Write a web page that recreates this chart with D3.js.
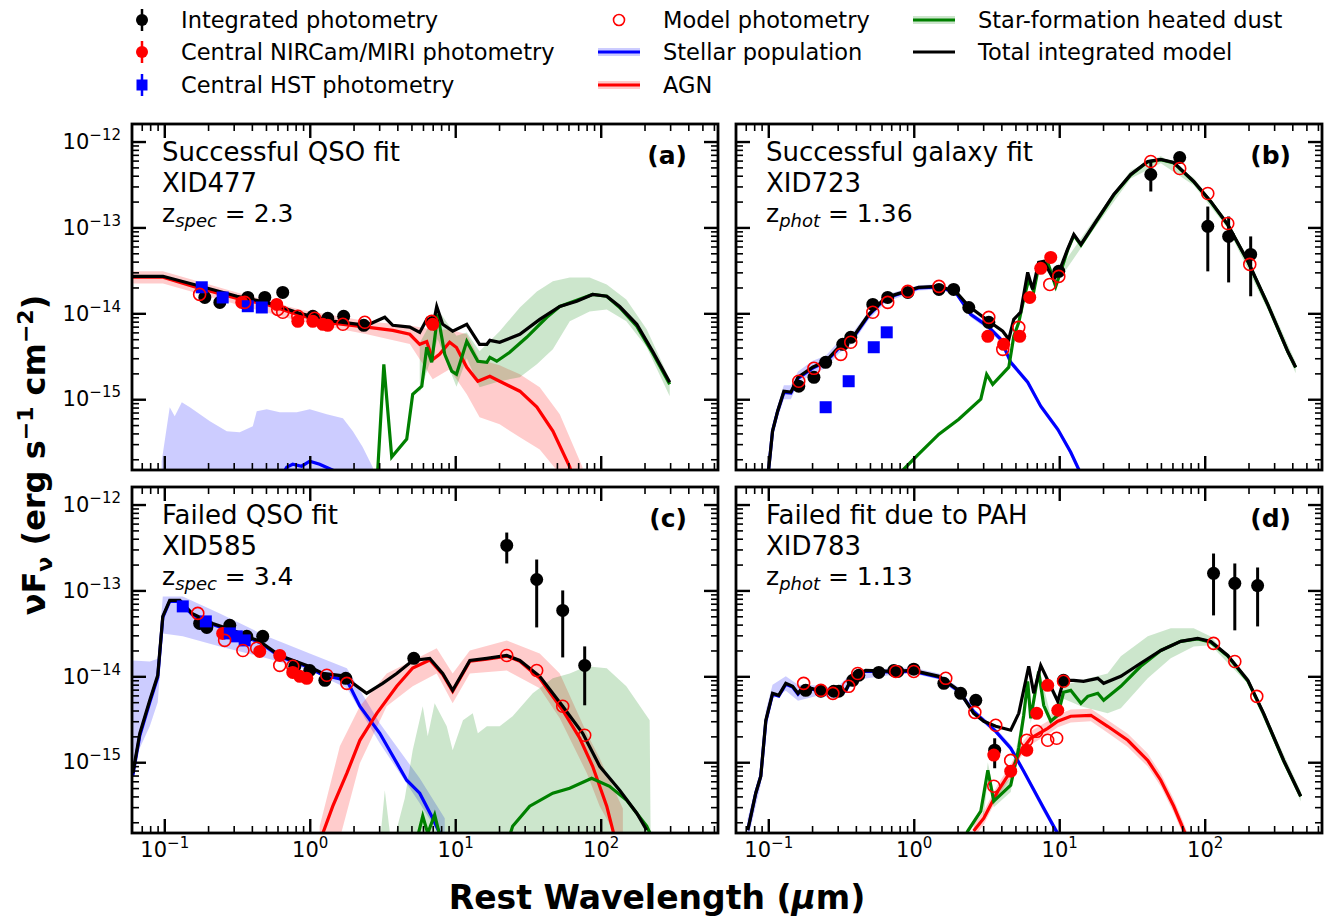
<!DOCTYPE html>
<html>
<head>
<meta charset="utf-8">
<script src="https://cdn.jsdelivr.net/npm/d3@7"></script>
<style>
  body { margin: 0; background: #fff; }
  text { font-family: "DejaVu Sans", sans-serif; }
</style>
</head>
<body>
<div id="chart"></div>
<script>
// Global set up
const W = 1331, H = 917;
const pw = 586, ph = 346;
const xDomain = [0.06, 640];   // rest wavelength (micron)
const yDomain = [0.015, 160];  // nuFnu in units of 1e-14 erg s^-1 cm^-2
const xMajor = [0.1, 1, 10, 100];
const yMajor = [0.1, 1, 10, 100];

// ---- Panel (a) XID477 ----  [wavelength, flux] ; bands [wavelength, lo, hi]
const aTotal = [[0.06,2.7],[0.098,2.7],[0.167,2.12],[0.316,1.58],[0.506,1.34],[0.85,1.0],[1.44,0.81],[2.47,0.725],[3.28,0.9],[3.72,0.725],[4.87,0.69],[5.7,0.6],[6.37,0.85],[7.0,0.69],[7.46,1.2],[8.2,0.745],[9.6,0.62],[12.0,0.745],[14.7,0.436],[16.5,0.436],[17.3,0.485],[20.2,0.46],[27.8,0.57],[38.1,0.85],[52.3,1.2],[68.4,1.38],[88,1.66],[110,1.58],[135,1.2],[177,0.745],[228,0.36],[298,0.158]];
const aStellar = [[0.622,0.0117],[0.695,0.0162],[0.764,0.0175],[0.88,0.0166],[1.0,0.019],[1.17,0.0175],[1.44,0.0149],[1.74,0.0117]];
const aStellarBand = [[0.096,0.005,0.019],[0.109,0.005,0.0807],[0.118,0.005,0.0634],[0.132,0.005,0.0923],[0.150,0.005,0.0807],[0.206,0.005,0.0555],[0.269,0.005,0.0425],[0.330,0.005,0.0413],[0.406,0.005,0.0485],[0.432,0.005,0.0725],[0.506,0.005,0.0765],[0.622,0.005,0.0706],[0.814,0.005,0.0706],[1.0,0.005,0.0765],[1.31,0.005,0.067],[1.69,0.005,0.0601],[1.98,0.005,0.0425],[2.31,0.005,0.0277],[2.71,0.005,0.0162],[2.85,0.005,0.01]];
const aAGN = [[0.06,2.63],[0.098,2.63],[0.167,2.0],[0.316,1.49],[0.506,1.27],[0.85,0.95],[1.44,0.77],[2.47,0.69],[3.72,0.634],[4.87,0.57],[5.7,0.436],[6.37,0.47],[7.0,0.29],[7.8,0.333],[9.15,0.46],[10.2,0.40],[12.0,0.235],[14.3,0.162],[17.3,0.185],[20.2,0.162],[27.8,0.124],[36.4,0.081],[46.9,0.0425],[61.3,0.0162],[66,0.0102]];
const aAGNBand = [[0.06,2.23,3.08],[0.098,2.23,3.08],[0.316,1.27,1.75],[0.85,0.81,1.11],[2.47,0.57,0.81],[4.87,0.44,0.72],[7.0,0.171,0.65],[9.15,0.223,0.65],[12.0,0.114,0.57],[14.7,0.0617,0.29],[20.2,0.051,0.248],[27.8,0.036,0.195],[38.1,0.026,0.138],[52.3,0.0135,0.067],[75,0.0069,0.0162]];
const aDust = [[2.93,0.0145],[3.23,0.255],[3.66,0.0212],[4.64,0.0343],[5.1,0.114],[5.89,0.142],[6.37,0.403],[6.89,0.269],[7.58,0.97],[8.47,0.333],[9.46,0.212],[10.2,0.195],[12.0,0.472],[14.3,0.277],[16.5,0.269],[17.3,0.307],[19.3,0.277],[23.7,0.352],[31,0.526],[42.6,0.90],[52.3,1.2],[68.4,1.42],[88,1.66],[110,1.58],[135,1.17],[177,0.71],[228,0.343],[298,0.149]];
const aDustBand = [[5.7,0.12,0.45],[7.58,0.5,1.11],[10.2,0.14,0.55],[12.0,0.3,0.6],[14.7,0.138,0.361],[20.2,0.162,0.618],[27.8,0.180,1.17],[36.4,0.255,1.80],[46.9,0.381,2.36],[61.3,0.807,2.62],[83.9,1.05,2.62],[110,1.11,2.17],[150,0.807,1.45],[207,0.403,0.652],[298,0.108,0.171]];
const aIntegrated = [[0.190,1.53],[0.241,1.34],[0.375,1.53],[0.491,1.53],[0.652,1.75],[1.05,0.923],[1.33,0.875],[1.71,0.923],[2.35,0.725],[7.0,0.786]];
const aCentral = [[0.341,1.34],[0.593,1.27],[0.828,0.807],[1.05,0.807],[1.23,0.745],[1.33,0.725],[7.0,0.745]];
const aHST = [[0.181,2.01],[0.252,1.53],[0.375,1.21],[0.468,1.17]];
const aModel = [[0.175,1.66],[0.357,1.34],[0.603,1.11],[0.652,1.03],[0.828,0.923],[1.08,0.875],[1.69,0.745],[2.39,0.786],[6.89,0.807]];

// ---- Panel (b) XID723 ----
const bTotal = [[0.099,0.0117],[0.107,0.0425],[0.116,0.0725],[0.128,0.124],[0.143,0.121],[0.160,0.180],[0.202,0.236],[0.248,0.277],[0.305,0.403],[0.381,0.526],[0.491,0.973],[0.642,1.53],[0.881,1.80],[1.08,2.01],[1.49,2.06],[1.94,1.80],[2.39,1.21],[3.28,0.807],[4.09,0.618],[4.5,0.499],[4.87,0.851],[5.43,1.03],[6.07,3.0],[6.57,1.90],[7.22,3.92],[7.82,4.03],[9.16,2.48],[9.93,3.0],[11.4,5.55],[12.6,8.29],[14.1,6.34],[17.3,10.8],[23.7,24.2],[31.0,41.3],[40.6,58.5],[49.9,61.8],[61.2,57.0],[84,34.3],[110,20.1],[144,10.8],[198,4.03],[271,1.27],[372,0.361],[422,0.236]];
const bStellar = [[0.099,0.0117],[0.107,0.0425],[0.116,0.0725],[0.128,0.12],[0.143,0.118],[0.160,0.175],[0.202,0.23],[0.248,0.27],[0.305,0.39],[0.381,0.51],[0.491,0.95],[0.642,1.5],[0.881,1.78],[1.08,1.98],[1.49,2.03],[1.94,1.75],[2.46,0.973],[3.23,0.706],[3.96,0.499],[4.64,0.269],[6.07,0.158],[7.46,0.083],[9.77,0.0447],[12.0,0.0241],[13.6,0.0153],[15.2,0.0103]];
const bStellarBand = [[0.099,0.01,0.014],[0.107,0.035,0.05],[0.116,0.06,0.085],[0.128,0.1,0.145],[0.143,0.1,0.145],[0.160,0.15,0.21],[0.202,0.2,0.28],[0.248,0.23,0.32],[0.305,0.34,0.47],[0.381,0.45,0.6],[0.491,0.85,1.05],[0.642,1.35,1.65],[0.881,1.65,1.92],[1.08,1.85,2.12],[1.49,1.9,2.18],[1.94,1.65,1.9],[2.46,0.9,1.05],[3.23,0.65,0.76],[3.96,0.46,0.54],[4.64,0.25,0.29],[6.07,0.147,0.17],[7.46,0.077,0.09],[9.77,0.041,0.048],[12.0,0.022,0.026],[15.2,0.0095,0.011]];
const bAGN = [];
const bAGNBand = [];
const bDust = [[0.80,0.012],[0.853,0.0153],[1.08,0.0229],[1.49,0.0392],[2.04,0.0585],[2.89,0.1],[3.17,0.195],[3.49,0.149],[4.5,0.236],[4.87,0.54],[5.27,0.786],[5.7,1.45],[6.17,2.48],[6.68,1.80],[7.22,3.52],[8.33,3.92],[9.46,2.06],[10.2,3.0],[11.4,5.4],[12.6,8.1],[14.1,6.2],[17.3,10.6],[23.7,23.8],[31.0,40.8],[40.6,58],[49.9,61.3],[61.2,56.5],[84,34],[110,19.9],[144,10.7],[198,4.0],[271,1.26],[372,0.358],[422,0.234]];
const bDustBand = [[10.2,2.6,3.4],[17.3,9.5,12.2],[31,37,46],[49.9,56,68],[84,31,38],[144,9.8,11.9],[271,1.1,1.45],[422,0.2,0.27]];
const bIntegrated = [[0.162,0.142],[0.206,0.180],[0.248,0.269],[0.325,0.436],[0.369,0.526],[0.523,1.27],[0.662,1.53],[0.91,1.75],[1.49,1.90],[1.88,1.90],[2.39,1.17],[3.28,0.786],[9.93,3.08],[42.6,41.3,26.2,58.5],[67.3,65.2,58.5,70],[105,10.3,3.08,17.5],[146,7.86,2.29,13.4],[207,4.85,1.58,7.86]];
const bCentral = [[3.23,0.54],[4.15,0.436],[5.35,0.54],[6.27,1.53],[7.46,3.34],[8.74,4.48]];
const bHST = [[0.248,0.0807],[0.357,0.162],[0.531,0.403],[0.652,0.601]];
const bModel = [[0.162,0.162],[0.206,0.229],[0.315,0.333],[0.369,0.46],[0.523,1.03],[0.662,1.34],[0.91,1.80],[1.49,2.06],[3.28,0.898],[4.09,0.381],[5.27,0.687],[8.61,2.17],[9.93,2.69],[42.6,58.5],[67.3,48.5],[105,24.8],[144,11.1],[204,3.71]];

// ---- Panel (c) XID585 ----
const cTotal = [[0.0608,0.0745],[0.0679,0.217],[0.0795,0.526],[0.0902,1.03],[0.0977,4.99],[0.109,7.65],[0.128,7.65],[0.155,5.4],[0.215,4.13],[0.296,3.43],[0.453,2.55],[0.622,1.75],[0.954,1.34],[1.23,1.08],[1.80,1.0],[1.98,0.829],[2.46,0.634],[3.17,0.829],[3.96,1.08],[5.1,1.53],[6.68,1.62],[8.2,1.08],[9.6,0.687],[12.6,1.53],[16.5,1.62],[22.6,1.75],[27.8,1.53],[38.1,1.0],[54.8,0.448],[75.2,0.217],[98.4,0.0898],[135,0.0472],[177,0.0255],[207,0.0162]];
const cStellar = [[0.0608,0.07],[0.0679,0.205],[0.0795,0.5],[0.0902,0.98],[0.0977,4.85],[0.109,7.45],[0.128,7.45],[0.155,5.25],[0.215,4.0],[0.296,3.33],[0.453,2.48],[0.622,1.7],[0.954,1.3],[1.23,1.04],[1.80,0.898],[2.21,0.448],[3.03,0.217],[4.64,0.0618],[5.7,0.0436],[7.0,0.0223],[7.82,0.0149]];
const cStellarBand = [[0.0608,0.0976,1.53],[0.0795,0.262,1.49],[0.0902,0.5,1.6],[0.0977,3.16,8.5],[0.134,2.92,8.5],[0.241,2.23,5.4],[0.506,1.62,2.92],[1.0,1.17,1.85],[1.80,0.725,1.24],[3.03,0.166,0.284],[5.7,0.0334,0.065],[8.47,0.0114,0.0223]];
const cAGN = [[1.23,0.0149],[1.44,0.0308],[1.80,0.0745],[2.21,0.180],[2.89,0.371],[3.96,0.765],[5.1,1.25],[6.68,1.55],[8.2,1.05],[9.6,0.67],[12.6,1.5],[16.5,1.58],[22.6,1.72],[27.8,1.5],[38.1,0.95],[54.8,0.403],[71.8,0.19],[88,0.0898],[110,0.0308],[125,0.0131]];
const cAGNBand = [[1.17,0.005,0.018],[1.61,0.013,0.153],[2.21,0.0973,0.448],[3.38,0.448,1.08],[5.1,0.765,1.53],[7.46,1.08,2.12],[9.6,0.486,1.08],[12.6,1.08,2.0],[22.6,1.17,2.62],[38.1,0.725,1.85],[52.3,0.325,1.08],[80.3,0.0745,0.217],[98.4,0.0308,0.111],[142,0.01,0.029]];
const cDust = [[5.27,0.01],[5.98,0.0236],[6.47,0.0149],[7.22,0.0244],[8.07,0.0114],[12.6,0.0026],[20.2,0.0058],[24.8,0.018],[32.5,0.0308],[46.8,0.0436],[61.2,0.0498],[86.7,0.0652],[115,0.0525],[151,0.036],[207,0.018],[235,0.0115]];
const cDustBand = [[2.9,0.003,0.005],[3.28,0.003,0.0472],[3.66,0.003,0.01],[4.5,0.003,0.0382],[5.1,0.003,0.138],[5.98,0.003,0.448],[6.47,0.003,0.2],[7.22,0.003,0.486],[8.74,0.003,0.262],[9.6,0.003,0.138],[11.3,0.003,0.308],[13.2,0.003,0.371],[14.3,0.003,0.217],[16.5,0.003,0.262],[20.2,0.003,0.262],[24.8,0.003,0.343],[34.1,0.003,0.634],[46.8,0.003,0.948],[61.2,0.003,1.08],[80.3,0.003,1.31],[110,0.003,1.24],[150,0.003,0.765],[217,0.003,0.308],[222,0.003,0.003]];
const cIntegrated = [[0.175,4.13],[0.196,3.71],[0.282,3.92],[0.369,2.92],[0.475,2.92],[0.789,1.31],[1.0,1.17],[1.27,0.898],[1.77,0.948],[5.19,1.62],[22.6,33.4,20.6,47.2],[36.3,13.4,3.71,22.9],[54.8,5.85,1.66,10],[77.6,1.34,0.46,2.23]];
const cCentral = [[0.252,3.16],[0.453,1.95],[0.622,1.75],[0.764,1.11],[0.854,1.0],[0.954,0.948]];
const cHST = [[0.134,6.52],[0.193,4.36],[0.282,3.16],[0.315,2.92],[0.357,2.62]];
const cModel = [[0.17,5.4],[0.26,2.62],[0.347,2.0],[0.432,2.12],[0.622,1.34],[0.764,1.31],[1.31,1.03],[1.80,0.829],[22.6,1.75],[36.3,1.17],[54.8,0.448],[77.6,0.206]];

// ---- Panel (d) XID783 ----
const dTotal = [[0.0723,0.0162],[0.082,0.0436],[0.0888,0.0687],[0.0962,0.308],[0.107,0.634],[0.118,0.601],[0.132,0.829],[0.147,0.765],[0.16,0.634],[0.175,0.765],[0.222,0.687],[0.291,0.634],[0.341,0.687],[0.381,1.0],[0.468,1.17],[0.717,1.14],[0.984,1.17],[1.49,1.0],[2.04,0.687],[2.58,0.371],[3.03,0.3],[3.66,0.262],[4.64,0.236],[5.27,0.371],[6.17,1.31],[6.68,0.634],[7.46,1.34],[9.77,0.512],[10.7,0.898],[12.6,0.898],[14.7,0.875],[18.4,0.948],[20.2,0.829],[26.5,1.0],[36.3,1.42],[49.9,2.0],[68.4,2.55],[89.5,2.77],[110,2.55],[144,1.75],[198,0.898],[254,0.371],[349,0.105],[457,0.0402]];
const dStellar = [[0.0723,0.0162],[0.082,0.0436],[0.0888,0.0687],[0.0962,0.3],[0.107,0.62],[0.118,0.59],[0.132,0.81],[0.147,0.75],[0.16,0.62],[0.175,0.75],[0.222,0.675],[0.291,0.62],[0.341,0.675],[0.381,0.98],[0.468,1.15],[0.717,1.12],[0.984,1.15],[1.49,0.98],[2.04,0.67],[2.58,0.39],[3.66,0.229],[4.64,0.146],[5.7,0.0786],[7.82,0.0292],[9.46,0.0162],[10.6,0.0115]];
const dStellarBand = [[0.072,0.012,0.022],[0.0888,0.055,0.085],[0.0962,0.25,0.4],[0.107,0.55,0.8],[0.132,0.68,1.0],[0.16,0.52,0.8],[0.222,0.6,0.78],[0.291,0.55,0.72],[0.381,0.9,1.12],[0.717,1.04,1.25],[0.984,1.08,1.27],[1.49,0.92,1.08],[2.04,0.62,0.74],[2.58,0.36,0.42],[3.66,0.215,0.25],[4.64,0.135,0.16],[5.7,0.072,0.085],[7.82,0.026,0.032],[10.6,0.0105,0.0127]];
const dAGN = [[2.58,0.0158],[3.03,0.0223],[3.78,0.046],[4.64,0.0786],[5.43,0.134],[6.37,0.19],[8.33,0.248],[9.77,0.3],[12.0,0.343],[16.5,0.352],[21.5,0.262],[29.6,0.18],[40.6,0.105],[49.9,0.0618],[61.2,0.0308],[71.8,0.0162],[80,0.01]];
const dAGNBand = [[2.58,0.013,0.019],[3.03,0.019,0.027],[3.78,0.039,0.055],[4.64,0.067,0.094],[5.43,0.114,0.16],[6.37,0.16,0.23],[8.33,0.21,0.3],[9.77,0.255,0.36],[12.0,0.29,0.41],[16.5,0.3,0.42],[21.5,0.22,0.31],[29.6,0.15,0.215],[40.6,0.089,0.126],[49.9,0.052,0.074],[61.2,0.026,0.037],[71.8,0.0137,0.0195],[80,0.0085,0.012]];
const dDust = [[2.1,0.01],[2.35,0.0158],[2.89,0.0269],[3.23,0.0807],[3.55,0.0352],[4.64,0.054],[5.27,0.146],[5.7,0.352],[6.07,0.875],[6.37,0.325],[7.22,1.14],[7.82,0.46],[8.74,0.3],[9.77,0.352],[10.7,0.652],[12.0,0.687],[14.1,0.486],[15.7,0.585],[18.4,0.634],[20.2,0.526],[26.5,0.765],[36.3,1.31],[49.9,2.0],[68.4,2.55],[89.5,2.72],[110,2.5],[144,1.72],[198,0.88],[254,0.365],[349,0.103],[457,0.04]];
const dDustBand = [[3.0,0.02,0.035],[3.23,0.065,0.1],[3.55,0.03,0.045],[4.64,0.045,0.066],[5.7,0.3,0.42],[6.07,0.75,1.0],[6.37,0.28,0.38],[7.22,1.0,1.3],[8.74,0.26,0.35],[10.7,0.55,0.78],[14.1,0.448,0.898],[21.5,0.371,1.08],[26.5,0.425,1.71],[40.6,0.948,2.92],[58.4,1.62,3.62],[84,2.23,3.62],[110,2.3,2.9],[198,0.82,0.98],[457,0.035,0.046]];
const dIntegrated = [[0.181,0.687],[0.23,0.67],[0.282,0.67],[0.305,0.67],[0.381,0.898],[0.419,1.03],[0.575,1.11],[0.729,1.17],[0.776,1.14],[1.0,1.21],[1.61,0.829],[2.1,0.634],[2.67,0.526],[3.6,0.138,0.0851,0.19],[10.7,0.898],[115,15.8,5.12,26.9],[161,12.1,3.43,20.6],[231,11.4,3.81,18.5]];
const dCentral = [[3.55,0.121],[4.64,0.0786],[5.98,0.138],[7.0,0.371],[8.33,0.786],[9.77,0.403]];
const dHST = [];
const dModel = [[0.175,0.829],[0.23,0.687],[0.278,0.634],[0.357,0.765],[0.412,1.08],[0.752,1.14],[1.0,1.14],[1.66,0.948],[2.63,0.381],[3.66,0.269],[3.55,0.0526],[4.64,0.105],[5.98,0.18],[7.0,0.229],[8.33,0.18],[9.6,0.19],[10.7,0.875],[115,2.42],[161,1.49],[228,0.585]];

const panels = [
  {tag: "a", title: "Successful QSO fit", xid: "XID477", zsub: "spec", z: "2.3", col: 0, row: 0,
   total: aTotal, stellar: aStellar, stellarBand: aStellarBand, agn: aAGN, agnBand: aAGNBand, dust: aDust, dustBand: aDustBand,
   integrated: aIntegrated, central: aCentral, hst: aHST, model: aModel},
  {tag: "b", title: "Successful galaxy fit", xid: "XID723", zsub: "phot", z: "1.36", col: 1, row: 0,
   total: bTotal, stellar: bStellar, stellarBand: bStellarBand, agn: bAGN, agnBand: bAGNBand, dust: bDust, dustBand: bDustBand,
   integrated: bIntegrated, central: bCentral, hst: bHST, model: bModel},
  {tag: "c", title: "Failed QSO fit", xid: "XID585", zsub: "spec", z: "3.4", col: 0, row: 1,
   total: cTotal, stellar: cStellar, stellarBand: cStellarBand, agn: cAGN, agnBand: cAGNBand, dust: cDust, dustBand: cDustBand,
   integrated: cIntegrated, central: cCentral, hst: cHST, model: cModel},
  {tag: "d", title: "Failed fit due to PAH", xid: "XID783", zsub: "phot", z: "1.13", col: 1, row: 1,
   total: dTotal, stellar: dStellar, stellarBand: dStellarBand, agn: dAGN, agnBand: dAGNBand, dust: dDust, dustBand: dDustBand,
   integrated: dIntegrated, central: dCentral, hst: dHST, model: dModel}
];

const colLeft = [132, 736];
const rowTop = [124, 487];

const svg = d3.select("#chart").append("svg")
  .attr("width", W).attr("height", H)
  .style("background", "#fff");

const colors = {
  blue: "#0000ff", red: "#ff0000", green: "#008000", black: "#000000",
  blueBand: "rgba(0,0,255,0.2)", redBand: "rgba(255,0,0,0.2)", greenBand: "rgba(0,128,0,0.2)"
};

function minorTicks(domain) {
  const out = [];
  for (let e = -3; e <= 3; e++) {
    for (let k = 2; k <= 9; k++) {
      const v = k * Math.pow(10, e);
      if (v > domain[0] && v < domain[1]) out.push(v);
    }
  }
  return out;
}

// "10^n" label with a raised exponent
function powLabel(textSel, d, offset) {
  const e = Math.round(Math.log10(d)) + offset;
  textSel.text(null);
  textSel.append("tspan").text("10");
  textSel.append("tspan").attr("dy", -9).attr("font-size", 15)
    .text((e < 0 ? "\u2212" : "") + Math.abs(e));
}

function styleAxis(sel, width) {
  sel.select(".domain").remove();
  sel.selectAll(".tick line").attr("stroke", "#000").attr("stroke-width", width);
}

function drawAxes(g, x, y, showX, showY) {
  const xMinor = minorTicks(xDomain);
  const yMinor = minorTicks(yDomain);
  const majorLen = -14, minorLen = -7;

  // bottom / top
  const bottom = g.append("g").attr("transform", `translate(0,${ph})`)
    .call(d3.axisBottom(x).tickValues(xMajor).tickSize(majorLen).tickSizeOuter(0).tickPadding(9).tickFormat(() => ""));
  styleAxis(bottom, 2.4);
  g.append("g").attr("transform", `translate(0,${ph})`)
    .call(d3.axisBottom(x).tickValues(xMinor).tickSize(minorLen).tickSizeOuter(0).tickFormat(() => ""))
    .call(s => styleAxis(s, 1.6));
  g.append("g")
    .call(d3.axisTop(x).tickValues(xMajor).tickSize(majorLen).tickSizeOuter(0).tickFormat(() => ""))
    .call(s => styleAxis(s, 2.4));
  g.append("g")
    .call(d3.axisTop(x).tickValues(xMinor).tickSize(minorLen).tickSizeOuter(0).tickFormat(() => ""))
    .call(s => styleAxis(s, 1.6));

  // left / right
  const left = g.append("g")
    .call(d3.axisLeft(y).tickValues(yMajor).tickSize(majorLen).tickSizeOuter(0).tickPadding(11).tickFormat(() => ""));
  styleAxis(left, 2.4);
  g.append("g")
    .call(d3.axisLeft(y).tickValues(yMinor).tickSize(minorLen).tickSizeOuter(0).tickFormat(() => ""))
    .call(s => styleAxis(s, 1.6));
  g.append("g").attr("transform", `translate(${pw},0)`)
    .call(d3.axisRight(y).tickValues(yMajor).tickSize(majorLen).tickSizeOuter(0).tickFormat(() => ""))
    .call(s => styleAxis(s, 2.4));
  g.append("g").attr("transform", `translate(${pw},0)`)
    .call(d3.axisRight(y).tickValues(yMinor).tickSize(minorLen).tickSizeOuter(0).tickFormat(() => ""))
    .call(s => styleAxis(s, 1.6));

  if (showX) {
    bottom.selectAll(".tick text")
      .attr("font-size", 21).attr("fill", "#000").attr("font-family", "DejaVu Sans")
      .each(function(d) { powLabel(d3.select(this), d, 0); });
  }
  if (showY) {
    left.selectAll(".tick text")
      .attr("font-size", 21).attr("fill", "#000").attr("font-family", "DejaVu Sans")
      .each(function(d) { powLabel(d3.select(this), d, -14); });
  }

  // frame
  g.append("rect").attr("width", pw).attr("height", ph)
    .attr("fill", "none").attr("stroke", "#000").attr("stroke-width", 2.8);
}

function drawPanel(p) {
  const g = svg.append("g").attr("transform", `translate(${colLeft[p.col]},${rowTop[p.row]})`);
  const x = d3.scaleLog().domain(xDomain).range([0, pw]);
  const y = d3.scaleLog().domain(yDomain).range([ph, 0]);

  const clipId = "clip-" + p.tag;
  g.append("clipPath").attr("id", clipId)
    .append("rect").attr("width", pw).attr("height", ph);
  const plot = g.append("g").attr("clip-path", `url(#${clipId})`);

  const area = d3.area().x(d => x(d[0])).y0(d => y(d[1])).y1(d => y(d[2]));
  const line = d3.line().x(d => x(d[0])).y(d => y(d[1]));

  //bands
  [[p.stellarBand, colors.blueBand], [p.agnBand, colors.redBand], [p.dustBand, colors.greenBand]]
    .forEach(([data, fill]) => {
      if (data.length) plot.append("path").datum(data).attr("d", area).attr("fill", fill);
    });

  //model components
  [[p.stellar, colors.blue], [p.agn, colors.red], [p.dust, colors.green], [p.total, colors.black]]
    .forEach(([data, stroke]) => {
      if (data.length) plot.append("path").datum(data).attr("d", line)
        .attr("fill", "none").attr("stroke", stroke).attr("stroke-width", 3.2)
        .attr("stroke-linejoin", "miter");
    });

  //photometry
  const errs = p.integrated.filter(d => d.length === 4);
  plot.selectAll(".err").data(errs).enter().append("line")
    .attr("x1", d => x(d[0])).attr("x2", d => x(d[0]))
    .attr("y1", d => y(d[2])).attr("y2", d => y(d[3]))
    .attr("stroke", "#000").attr("stroke-width", 3);
  plot.selectAll(".integ").data(p.integrated).enter().append("circle")
    .attr("cx", d => x(d[0])).attr("cy", d => y(d[1])).attr("r", 6.5).attr("fill", "#000");
  plot.selectAll(".central").data(p.central).enter().append("circle")
    .attr("cx", d => x(d[0])).attr("cy", d => y(d[1])).attr("r", 6.5).attr("fill", colors.red);
  plot.selectAll(".hst").data(p.hst).enter().append("rect")
    .attr("x", d => x(d[0]) - 6).attr("y", d => y(d[1]) - 6)
    .attr("width", 12).attr("height", 12).attr("fill", colors.blue);
  plot.selectAll(".model").data(p.model).enter().append("circle")
    .attr("cx", d => x(d[0])).attr("cy", d => y(d[1])).attr("r", 6)
    .attr("fill", "none").attr("stroke", colors.red).attr("stroke-width", 1.6);

  drawAxes(g, x, y, p.row === 1, p.col === 0);

  //annotations
  const tx = 30;
  g.append("text").attr("x", tx).attr("y", 37).attr("font-size", 26).text(p.title);
  g.append("text").attr("x", tx).attr("y", 67.5).attr("font-size", 26).text(p.xid);
  const zt = g.append("text").attr("x", tx).attr("y", 97.5).attr("font-size", 25);
  zt.append("tspan").text("z");
  zt.append("tspan").attr("dy", 5).attr("font-size", 18).attr("font-style", "italic").text(p.zsub);
  zt.append("tspan").attr("dy", -5).text(" = " + p.z);
  g.append("text").attr("x", pw - 31).attr("y", 40).attr("text-anchor", "end")
    .attr("font-size", 25).attr("font-weight", "bold").text(`(${p.tag})`);
}

panels.forEach(drawPanel);

//axis titles
const yTitle = svg.append("text")
  .attr("transform", "translate(45,455) rotate(-90)")
  .attr("text-anchor", "middle").attr("font-size", 32).attr("font-weight", "bold");
yTitle.append("tspan").text("\u03bdF");
yTitle.append("tspan").attr("dy", 7).attr("font-size", 22).text("\u03bd");
yTitle.append("tspan").attr("dy", -7).text(" (erg s");
yTitle.append("tspan").attr("dy", -12).attr("font-size", 22).text("\u22121");
yTitle.append("tspan").attr("dy", 12).text(" cm");
yTitle.append("tspan").attr("dy", -12).attr("font-size", 22).text("\u22122");
yTitle.append("tspan").attr("dy", 12).text(")");

const xTitle = svg.append("text")
  .attr("x", 657).attr("y", 909).attr("text-anchor", "middle")
  .attr("font-size", 33).attr("font-weight", "bold");
xTitle.append("tspan").text("Rest Wavelength (");
xTitle.append("tspan").attr("font-style", "italic").text("\u03bc");
xTitle.append("tspan").text("m)");

//legend
const legendEntries = [
  {label: "Integrated photometry", kind: "err", color: colors.black, col: 0, row: 0},
  {label: "Central NIRCam/MIRI photometry", kind: "err", color: colors.red, col: 0, row: 1},
  {label: "Central HST photometry", kind: "errsq", color: colors.blue, col: 0, row: 2},
  {label: "Model photometry", kind: "open", color: colors.red, col: 1, row: 0},
  {label: "Stellar population", kind: "line", color: colors.blue, band: colors.blueBand, col: 1, row: 1},
  {label: "AGN", kind: "line", color: colors.red, band: colors.redBand, col: 1, row: 2},
  {label: "Star-formation heated dust", kind: "line", color: colors.green, band: colors.greenBand, col: 2, row: 0},
  {label: "Total integrated model", kind: "line", color: colors.black, col: 2, row: 1}
];
const legendHandleX = [142, 619, 934];
const legendTextX = [181, 663, 978];
const legendRowY = [20, 52, 85];

const legend = svg.append("g");
legendEntries.forEach(e => {
  const cx = legendHandleX[e.col], cy = legendRowY[e.row];
  if (e.kind === "err" || e.kind === "errsq") {
    legend.append("line").attr("x1", cx).attr("x2", cx).attr("y1", cy - 11).attr("y2", cy + 11)
      .attr("stroke", e.color).attr("stroke-width", 2.5);
    if (e.kind === "err") {
      legend.append("circle").attr("cx", cx).attr("cy", cy).attr("r", 6).attr("fill", e.color);
    } else {
      legend.append("rect").attr("x", cx - 5.5).attr("y", cy - 5.5).attr("width", 11).attr("height", 11).attr("fill", e.color);
    }
  } else if (e.kind === "open") {
    legend.append("circle").attr("cx", cx).attr("cy", cy).attr("r", 5.5)
      .attr("fill", "none").attr("stroke", e.color).attr("stroke-width", 1.6);
  } else {
    if (e.band) {
      legend.append("rect").attr("x", cx - 21).attr("y", cy - 4).attr("width", 42).attr("height", 8).attr("fill", e.band);
    }
    legend.append("line").attr("x1", cx - 21).attr("x2", cx + 21).attr("y1", cy).attr("y2", cy)
      .attr("stroke", e.color).attr("stroke-width", 3);
  }
  legend.append("text").attr("x", legendTextX[e.col]).attr("y", cy + 8)
    .attr("font-size", 22.5).text(e.label);
});
</script>
</body>
</html>
